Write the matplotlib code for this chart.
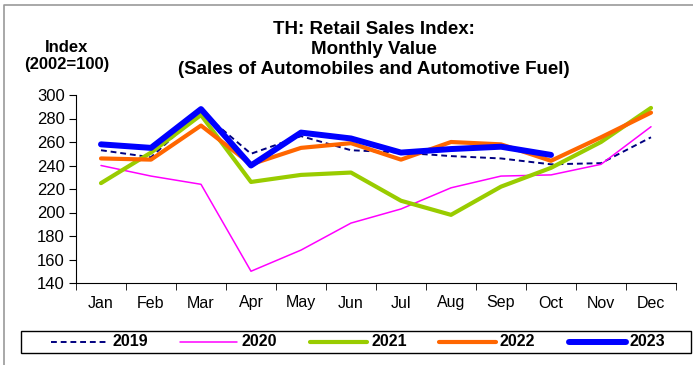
import matplotlib.pyplot as plt
from matplotlib.lines import Line2D
from matplotlib.patches import Rectangle

plt.rcParams['font.family'] = ['Liberation Sans', 'DejaVu Sans']

W, H = 693, 365

months = ['Jan', 'Feb', 'Mar', 'Apr', 'May', 'Jun',
          'Jul', 'Aug', 'Sep', 'Oct', 'Nov', 'Dec']

# monthly index values (2002=100)
y2019 = [253, 247, 286, 250, 265, 253, 251, 248, 246, 241, 242, 264]
y2020 = [240, 231, 224, 150, 168, 191, 203, 221, 231, 232, 241, 273]
y2021 = [225, 251, 283, 226, 232, 234, 210, 198, 222, 238, 260, 289]
y2022 = [246, 245, 274, 241, 255, 259, 245, 260, 258, 244, 264, 285]
y2023 = [258, 255, 288, 240, 268, 263, 251, 254, 256, 249]

series = [
    ('2019', y2019, '#000080', 1.4, (0, (3, 2))),
    ('2020', y2020, '#FF00FF', 1.1, '-'),
    ('2021', y2021, '#99CC00', 3.0, '-'),
    ('2022', y2022, '#FF6600', 3.0, '-'),
    ('2023', y2023, '#0000FF', 4.3, '-'),
]


def fx(px):
    return px / W


def fy(py):
    return 1 - py / H


fig = plt.figure(figsize=(W / 100, H / 100), dpi=100)
ax = fig.add_axes([fx(76), fy(283), 600 / W, 188 / H])

for name, vals, color, lw, ls in series:
    x = [i + 0.5 for i in range(len(vals))]
    ax.plot(x, vals, color=color, lw=lw, ls=ls,
            solid_capstyle='round', solid_joinstyle='round')

ax.set_xlim(0, 12)
ax.set_ylim(140, 300)
ax.set_yticks(range(140, 301, 20))
ax.set_xticks([i + 0.5 for i in range(12)])
ax.set_xticklabels(months)
ax.set_xticks(range(13), minor=True)
ax.tick_params(axis='x', which='major', length=0, pad=9, labelsize=11.5)
ax.tick_params(axis='x', which='minor', length=5, direction='out')
ax.tick_params(axis='y', length=5, direction='out', labelsize=12, pad=3)
for s in ['top', 'right']:
    ax.spines[s].set_visible(False)

title_lines = [('TH: Retail Sales Index:', 29),
               ('Monthly Value', 49),
               ('(Sales of Automobiles and Automotive Fuel)', 69)]
for txt, py in title_lines:
    fig.text(fx(374), fy(py), txt, ha='center', va='center',
             fontsize=13.5, fontweight='bold')

fig.text(fx(67), fy(47), 'Index', ha='center', va='center',
         fontsize=12, fontweight='bold')
fig.text(fx(67), fy(64), '(2002=100)', ha='center', va='center',
         fontsize=12, fontweight='bold')

# legend box with one sample line per year
fig.patches.append(Rectangle((fx(21), fy(353)), 670 / W, 22 / H,
                             transform=fig.transFigure, fill=False,
                             edgecolor='black', lw=1.0))
leg_x = [51, 180, 310, 439, 569]
for (name, vals, color, lw, ls), x0 in zip(series, leg_x):
    fig.lines.append(Line2D([fx(x0), fx(x0 + 57)], [fy(342), fy(342)],
                            transform=fig.transFigure, color=color, lw=lw,
                            ls=ls, solid_capstyle='round'))
    fig.text(fx(x0 + 61), fy(342), name, ha='left', va='center',
             fontsize=11.5, fontweight='bold')

# gray border on the left and top edges
fig.lines.append(Line2D([fx(3.5), fx(3.5), fx(693)], [fy(365), fy(4.5), fy(4.5)],
                        transform=fig.transFigure, color='#999999', lw=1.2))

fig.savefig('out.png', dpi=100)
